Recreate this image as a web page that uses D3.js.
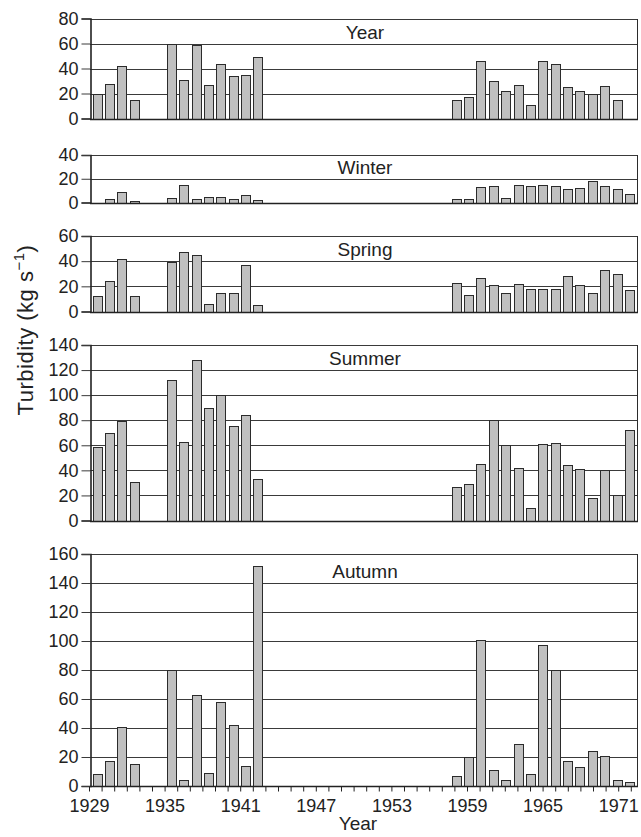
<!DOCTYPE html>
<html>
<head>
<meta charset="utf-8">
<script src="https://cdn.jsdelivr.net/npm/d3@7"></script>
<style>
body { margin: 0; background: #fff; }
text { font-family: "Liberation Sans", Arial, sans-serif; fill: #222; }
</style>
</head>
<body>
<div id="chart"></div>
<script>
// years that have data (gap 1933-34 and 1943-57)
const years = [1929, 1930, 1931, 1932, 1935, 1936, 1937, 1938, 1939, 1940, 1941, 1942,
  1958, 1959, 1960, 1961, 1962, 1963, 1964, 1965, 1966, 1967, 1968, 1969, 1970, 1971, 1972];

const yearVals   = [20, 28, 42, 15, 60, 31, 59, 27, 44, 34, 35, 49,
  15, 17, 46, 30, 22, 27, 11, 46, 44, 25, 22, 20, 26, 15, null];
const winterVals = [null, 3, 9, 1, 4, 15, 3, 5, 5, 3, 6, 2,
  3, 3, 13, 14, 4, 15, 14, 15, 14, 11, 12, 18, 14, 11, 7];
const springVals = [12, 24, 42, 12, 39, 47, 45, 6, 15, 15, 37, 5,
  23, 13, 27, 21, 15, 22, 18, 18, 18, 28, 21, 15, 33, 30, 17];
const summerVals = [59, 70, 79, 31, 112, 63, 128, 90, 100, 75, 84, 33,
  27, 29, 45, 80, 60, 42, 10, 61, 62, 44, 41, 18, 40, 20, 72];
const autumnVals = [8, 17, 41, 15, 80, 4, 63, 9, 58, 42, 14, 152,
  7, 20, 101, 11, 4, 29, 8, 97, 80, 17, 13, 24, 21, 4, 3];

const panelNames = ["Year", "Winter", "Spring", "Summer", "Autumn"];
const panelMax   = [80, 40, 60, 140, 160];
const panelData  = [yearVals, winterVals, springVals, summerVals, autumnVals];

const axisYears  = [1929, 1930, 1931, 1932, 1933, 1934, 1935, 1936, 1937, 1938, 1939, 1940,
  1941, 1942, 1943, 1944, 1945, 1946, 1947, 1948, 1949, 1950, 1951, 1952, 1953, 1954,
  1955, 1956, 1957, 1958, 1959, 1960, 1961, 1962, 1963, 1964, 1965, 1966, 1967, 1968,
  1969, 1970, 1971, 1972];
const labelYears = [1929, 1935, 1941, 1947, 1953, 1959, 1965, 1971];

const width = 641, height = 837;
const left = 90, right = 637;
// vertical extent of each panel (top = max value, bottom = 0)
const tops    = [18.5, 155, 236, 345, 554];
const bottoms = [118.5, 202.5, 311.5, 520.5, 786];

const svg = d3.select("#chart").append("svg")
  .attr("width", width)
  .attr("height", height);

// bars sit on a band scale, year ticks on a linear scale
const xBand = d3.scaleBand()
  .domain(axisYears)
  .range([92.5, 634])
  .paddingInner(0.27)
  .paddingOuter(0);

const xTick = d3.scaleLinear()
  .domain([1929, 1972])
  .range([89, 630.8]);

panelNames.forEach((name, i) => {
  const y = d3.scaleLinear()
    .domain([0, panelMax[i]])
    .range([bottoms[i], tops[i]]);
  const ticks = d3.range(0, panelMax[i] + 1, 20);

  const g = svg.append("g").attr("class", "panel");

  // gridlines
  g.selectAll(".grid")
    .data(ticks)
    .enter().append("line")
    .attr("x1", left).attr("x2", right)
    .attr("y1", d => Math.round(y(d)) + 0.5)
    .attr("y2", d => Math.round(y(d)) + 0.5)
    .attr("stroke", "#3a3a3a")
    .attr("stroke-width", 1);

  // bars
  const rows = years.map((yr, j) => ({ year: yr, v: panelData[i][j] }))
    .filter(d => d.v != null);

  g.selectAll(".bar")
    .data(rows)
    .enter().append("rect")
    .attr("x", d => Math.round(xBand(d.year)) + 0.5)
    .attr("y", d => Math.round(y(d.v)) + 0.5)
    .attr("width", Math.round(xBand.bandwidth()))
    .attr("height", d => Math.max(0, Math.round(y(0)) - Math.round(y(d.v))))
    .attr("fill", "#c0c0c0")
    .attr("stroke", "#2b2b2b")
    .attr("stroke-width", 1);

  // right frame
  g.append("line")
    .attr("x1", right + 0.5).attr("x2", right + 0.5)
    .attr("y1", Math.round(y(panelMax[i])))
    .attr("y2", Math.round(y(0)) + 1)
    .attr("stroke", "#2b2b2b");

  // left axis
  const ax = g.append("g")
    .attr("transform", `translate(${left + 0.5},0)`)
    .call(d3.axisLeft(y).tickValues(ticks).tickSize(9).tickPadding(3));
  ax.select(".domain").attr("stroke", "#222").attr("stroke-width", 1.6);
  ax.selectAll(".tick line").attr("stroke", "#3a3a3a");
  ax.selectAll(".tick text")
    .style("font-size", "18px")
    .style("font-family", "'Liberation Sans', Arial, sans-serif")
    .attr("fill", "#222");

  // bottom line of panel
  g.append("line")
    .attr("x1", left).attr("x2", right + 1)
    .attr("y1", Math.round(y(0)) + 0.5).attr("y2", Math.round(y(0)) + 0.5)
    .attr("stroke", "#222").attr("stroke-width", 1.6);

  // panel title
  g.append("text")
    .attr("x", 365)
    .attr("y", y(panelMax[i] - 20) - 5)
    .attr("text-anchor", "middle")
    .style("font-size", "19px")
    .text(name);

  // year axis only under the last panel
  if (i === panelNames.length - 1) {
    const xa = g.append("g")
      .attr("transform", `translate(0,${Math.round(y(0)) + 0.5})`)
      .call(d3.axisBottom(xTick)
        .tickValues(axisYears)
        .tickSize(5)
        .tickPadding(8)
        .tickFormat(d => labelYears.includes(d) ? d : ""));
    xa.select(".domain").remove();
    xa.selectAll(".tick line").attr("stroke", "#222");
    xa.selectAll(".tick text")
      .style("font-size", "18px")
      .style("font-family", "'Liberation Sans', Arial, sans-serif")
      .attr("fill", "#222");
  }
});

// axis titles
svg.append("text")
  .attr("x", 358)
  .attr("y", 830)
  .attr("text-anchor", "middle")
  .style("font-size", "19px")
  .text("Year");

const yt = svg.append("text")
  .attr("transform", "rotate(-90)")
  .attr("x", -330)
  .attr("y", 33)
  .attr("text-anchor", "middle")
  .style("font-size", "22px")
  .style("letter-spacing", "0.5px");
yt.append("tspan").text("Turbidity (kg s");
yt.append("tspan").attr("dy", -9).style("font-size", "15px").text("\u22121");
yt.append("tspan").attr("dy", 9).text(")");
</script>
</body>
</html>
